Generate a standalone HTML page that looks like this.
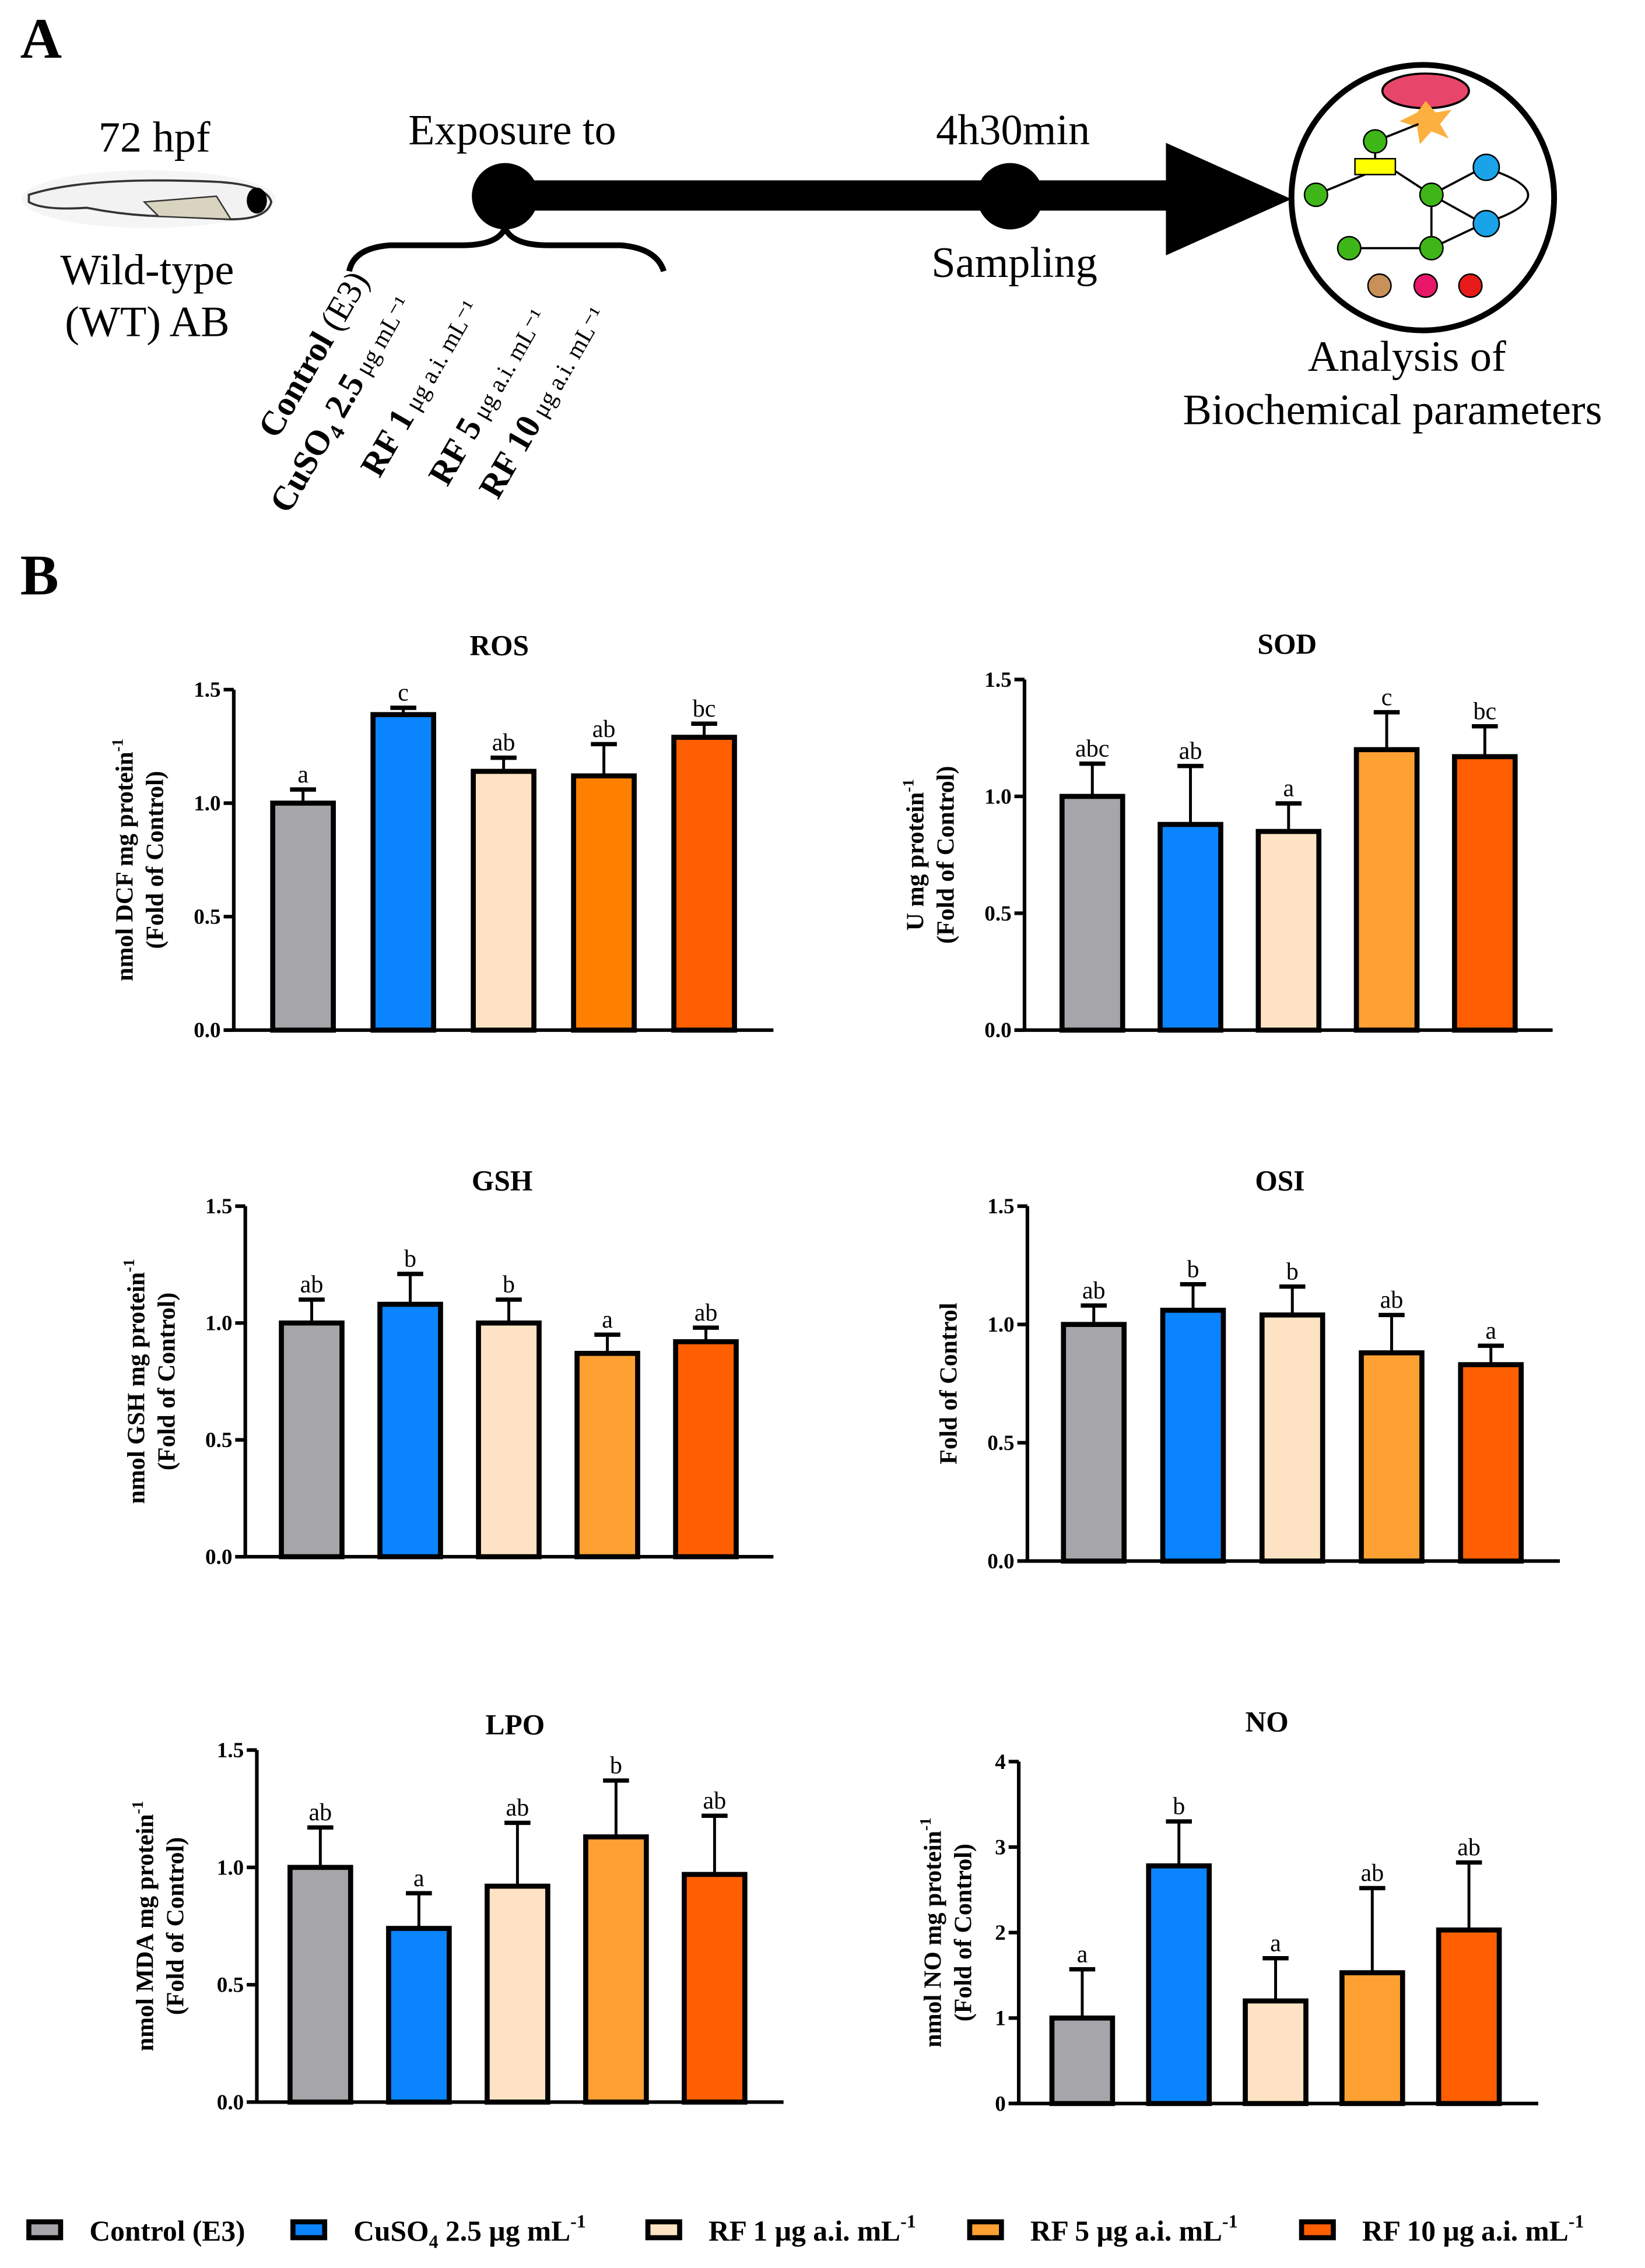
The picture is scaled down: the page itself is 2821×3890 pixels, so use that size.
<!DOCTYPE html>
<html><head><meta charset="utf-8"><style>
html,body{margin:0;padding:0;background:#fff}
svg{display:block;font-family:"Liberation Serif",serif}
text,tspan{font-family:"Liberation Serif",serif}
</style></head><body>
<svg id="fig" width="2821" height="3890" viewBox="0 0 1140 1572" preserveAspectRatio="none" font-family="Liberation Serif, serif" xmlns="http://www.w3.org/2000/svg">
<g>
<text x="14" y="40" font-size="40" font-weight="bold">A</text>
<text x="107" y="105" font-size="30" text-anchor="middle">72 hpf</text>
<g>
<ellipse cx="103" cy="138" rx="88" ry="20" fill="#eee" opacity="0.6"/>
<path d="M20 135 Q60 122 150 126 Q185 128 188 140 Q185 152 160 152 L120 150 Q90 150 60 144 Q30 146 20 140 Z" fill="#f2f2f2" stroke="#333" stroke-width="1.5"/>
<path d="M100 140 L150 136 L160 152 L110 150 Z" fill="#d8d4c0" stroke="#333" stroke-width="1"/>
<ellipse cx="178" cy="139" rx="7" ry="9" fill="#000"/>
</g>
<text x="102" y="197" font-size="30" text-anchor="middle">Wild-type</text>
<text x="102" y="233" font-size="30" text-anchor="middle">(WT) AB</text>
<text x="355" y="100" font-size="30" text-anchor="middle">Exposure to</text>
<rect x="350" y="125" width="470" height="21" fill="#000"/>
<polygon points="808,99 895,138 808,177" fill="#000"/>
<circle cx="350" cy="136" r="23" fill="#000"/>
<circle cx="700" cy="136" r="23" fill="#000"/>
<text x="702" y="100" font-size="30" text-anchor="middle">4h30min</text>
<text x="703" y="192" font-size="30" text-anchor="middle">Sampling</text>
<path d="M242 188 Q245 172 270 170 L320 170 Q345 170 350 158 Q355 170 380 170 L430 170 Q455 172 460 188" fill="none" stroke="#000" stroke-width="4"/>
<g font-size="24">
<text transform="translate(192,305) rotate(-60)"><tspan font-weight="bold">Control</tspan> (E3)</text>
<text transform="translate(200,357) rotate(-60)"><tspan font-weight="bold">CuSO</tspan><tspan font-weight="bold" font-size="15" dy="5">4</tspan><tspan font-weight="bold" dy="-5"> 2.5</tspan><tspan font-size="17"> μg mL⁻¹</tspan></text>
<text transform="translate(263,332) rotate(-60)"><tspan font-weight="bold">RF 1</tspan><tspan font-size="17"> μg a.i. mL⁻¹</tspan></text>
<text transform="translate(310,338) rotate(-60)"><tspan font-weight="bold">RF 5</tspan><tspan font-size="17"> μg a.i. mL⁻¹</tspan></text>
<text transform="translate(345,347) rotate(-60)"><tspan font-weight="bold">RF 10</tspan><tspan font-size="17"> μg a.i. mL⁻¹</tspan></text>
</g>
<g>
<ellipse cx="986" cy="137" rx="91" ry="92" fill="#fff" stroke="#000" stroke-width="4"/>
<ellipse cx="988" cy="63" rx="30" ry="12" fill="#e8456a" stroke="#000" stroke-width="1.5"/>
<polygon points="988,70 995,78 1006,76 998,86 1004,96 992,91 984,100 982,88 970,84 982,78" fill="#fbb040"/>
<path d="M953 98 L983 86 M953 98 L953 112 M953 118 L912 135 M966 118 L992 135 L1028 116 M992 135 L1028 155 M1028 116 Q1090 135 1028 155 M992 135 L992 172 L1028 155 M935 172 L992 172" stroke="#000" stroke-width="1.5" fill="none"/>
<rect x="939" y="110" width="28" height="11" fill="#ff0" stroke="#000"/>
<g fill="#3fb618" stroke="#000" stroke-width="1"><circle cx="953" cy="98" r="8"/><circle cx="912" cy="135" r="8"/><circle cx="992" cy="135" r="8"/><circle cx="935" cy="172" r="8"/><circle cx="992" cy="172" r="8"/></g>
<g fill="#1aa3e8" stroke="#000" stroke-width="1"><circle cx="1030" cy="116" r="9"/><circle cx="1030" cy="155" r="9"/></g>
<circle cx="956" cy="198" r="8" fill="#c8915a" stroke="#000"/><circle cx="988" cy="198" r="8" fill="#e8176a" stroke="#000"/><circle cx="1019" cy="198" r="8" fill="#e81a1a" stroke="#000"/>
</g>
<text x="975" y="257" font-size="30" text-anchor="middle">Analysis of</text>
<text x="965" y="294" font-size="30" text-anchor="middle">Biochemical parameters</text>
</g>
<text x="14" y="412" font-size="40" font-weight="bold">B</text>
<g id="charts"></g>
<g id="legend"></g>
</svg>
<script>
const colors=["#a6a6aa","#0a84ff","#fde3c3","#ffa033","#ff5f00"];
const rosValues=[1.0,1.39,1.14,1.12,1.29];
const rosErrors=[0.06,0.03,0.06,0.14,0.06];
const rosLetters=["a","c","ab","ab","bc"];
const sodValues=[1.0,0.88,0.85,1.2,1.17];
const sodErrors=[0.14,0.25,0.12,0.16,0.13];
const sodLetters=["abc","ab","a","c","bc"];
const gshValues=[1.0,1.08,1.0,0.87,0.92];
const gshErrors=[0.1,0.13,0.1,0.08,0.06];
const gshLetters=["ab","b","b","a","ab"];
const osiValues=[1.0,1.06,1.04,0.88,0.83];
const osiErrors=[0.08,0.11,0.12,0.16,0.08];
const osiLetters=["ab","b","b","ab","a"];
const lpoValues=[1.0,0.74,0.92,1.13,0.97];
const lpoErrors=[0.17,0.15,0.27,0.24,0.25];
const lpoLetters=["ab","a","ab","b","ab"];
const noValues=[1.0,2.78,1.2,1.53,2.03];
const noErrors=[0.57,0.52,0.5,0.99,0.79];
const noLetters=["a","b","a","ab","ab"];
const ticks15=["0.0","0.5","1.0","1.5"];
const ticksNo=["0","1","2","3","4"];
const legendLabels=["Control (E3)","CuSO4 2.5 µg mL-1","RF 1 µg a.i. mL-1","RF  5 µg a.i. mL-1","RF  10 µg a.i. mL-1"];

const NS="http://www.w3.org/2000/svg";
const root=document.getElementById('charts');
function mk(tag,attrs,parent){const e=document.createElementNS(NS,tag);for(const k in attrs)e.setAttribute(k,attrs[k]);parent.appendChild(e);return e;}

function drawChart(o){
  const g=mk('g',{},root);
  
  
  const ymax=parseFloat(o.ticks[o.ticks.length-1]);
  const y=v=>o.y0-(v/ymax)*(o.y0-o.yTop);
  const x=i=>o.x0+o.firstGap+i*o.step;
  const t=mk('text',{x:o.titleX,y:o.titleY,'font-size':20,'font-weight':'bold','text-anchor':'middle'},g);
  t.textContent=o.title;
  
  
  o.values.forEach((v,i)=>{
    const cx=x(i),bw=42;
    const e=v+o.errors[i];
    const el=mk('line',{x1:cx,x2:cx,y1:y(v),y2:y(e),stroke:'#000','stroke-width':2},g);
    
    
    const cap=mk('line',{x1:cx-9,x2:cx+9,y1:y(e),y2:y(e),stroke:'#000','stroke-width':3},g);
    
    
    const r=mk('rect',{x:cx-bw/2,y:y(v),width:bw,height:o.y0-y(v),fill:o.colors[i],stroke:'#000','stroke-width':3.5},g);
    
    
    const lt=mk('text',{x:cx,y:y(e)-5,'font-size':17,'text-anchor':'middle'},g);
    lt.textContent=o.letters[i];
    
    
  });
  const ya=mk('line',{x1:o.x0,x2:o.x0,y1:o.yTop,y2:o.y0,stroke:'#000','stroke-width':2.5},g);
  
  
  const xa=mk('line',{x1:o.x0-7,x2:o.xEnd,y1:o.y0,y2:o.y0,stroke:'#000','stroke-width':2.5},g);
  
  
  o.ticks.forEach(tk=>{
    const v=parseFloat(tk);
    const tl=mk('line',{x1:o.x0-7,x2:o.x0,y1:y(v),y2:y(v),stroke:'#000','stroke-width':2.5},g);
    
    
    const tt=mk('text',{x:o.x0-9,y:y(v)+5,'font-size':15,'font-weight':'bold','text-anchor':'end'},g);
    tt.textContent=tk;
    
    
  });
  const cy=(o.y0+o.yTop)/2;
  o.ylab.forEach((s,k)=>{
    const yl=mk('text',{transform:`translate(${o.ylabX+k*21},${cy}) rotate(-90)`,'font-size':17,'font-weight':'bold','text-anchor':'middle'},g);
    yl.innerHTML=s;
    
    
  });
}
const sup='<tspan font-size="11" dy="-7">-1</tspan>';
drawChart({name:'ros',title:'ROS',titleX:346,titleY:454,x0:162,y0:714,yTop:478,xEnd:536,firstGap:48,step:69.5,values:rosValues,errors:rosErrors,letters:rosLetters,ticks:ticks15,colors:["#a6a6aa","#0a84ff","#fde3c3","#ff8000","#ff5f00"],ylabX:92,ylab:['nmol DCF mg protein'+sup,'(Fold of Control)']});
drawChart({name:'sod',title:'SOD',titleX:892,titleY:453,x0:710,y0:714,yTop:471,xEnd:1076,firstGap:47,step:68,values:sodValues,errors:sodErrors,letters:sodLetters,ticks:ticks15,colors:colors,ylabX:640,ylab:['U mg protein'+sup,'(Fold of Control)']});
drawChart({name:'gsh',title:'GSH',titleX:348,titleY:825,x0:170,y0:1079,yTop:836,xEnd:536,firstGap:46,step:68.3,values:gshValues,errors:gshErrors,letters:gshLetters,ticks:ticks15,colors:colors,ylabX:100,ylab:['nmol GSH mg protein'+sup,'(Fold of Control)']});
drawChart({name:'osi',title:'OSI',titleX:887,titleY:825,x0:712,y0:1082,yTop:836,xEnd:1081,firstGap:46,step:68.8,values:osiValues,errors:osiErrors,letters:osiLetters,ticks:ticks15,colors:colors,ylabX:663,ylab:['Fold of Control']});
drawChart({name:'lpo',title:'LPO',titleX:357,titleY:1202,x0:178,y0:1457,yTop:1213,xEnd:543,firstGap:44,step:68.3,values:lpoValues,errors:lpoErrors,letters:lpoLetters,ticks:ticks15,colors:colors,ylabX:106,ylab:['nmol MDA mg protein'+sup,'(Fold of Control)']});
drawChart({name:'no',title:'NO',titleX:878,titleY:1200,x0:706,y0:1458,yTop:1221,xEnd:1066,firstGap:44,step:67,values:noValues,errors:noErrors,letters:noLetters,ticks:ticksNo,colors:colors,ylabX:652,ylab:['nmol NO mg protein'+sup,'(Fold of Control)']});

const lg=document.getElementById('legend');
const lx=[20,203,449,672,902];
legendLabels.forEach((s,i)=>{
  const r=mk('rect',{x:lx[i],y:1540,width:22,height:11,fill:colors[i],stroke:'#000','stroke-width':3.5},lg);
  
  
  const t=mk('text',{x:lx[i]+42,y:1553,'font-size':20,'font-weight':'bold'},lg);
  let h=s.replace('CuSO4','CuSO<tspan font-size="13" dy="5">4</tspan><tspan dy="-5"> </tspan>').replace('mL-1','mL<tspan font-size="13" dy="-9">-1</tspan>');
  t.innerHTML=h;
  
  
});
</script>
</body></html>
